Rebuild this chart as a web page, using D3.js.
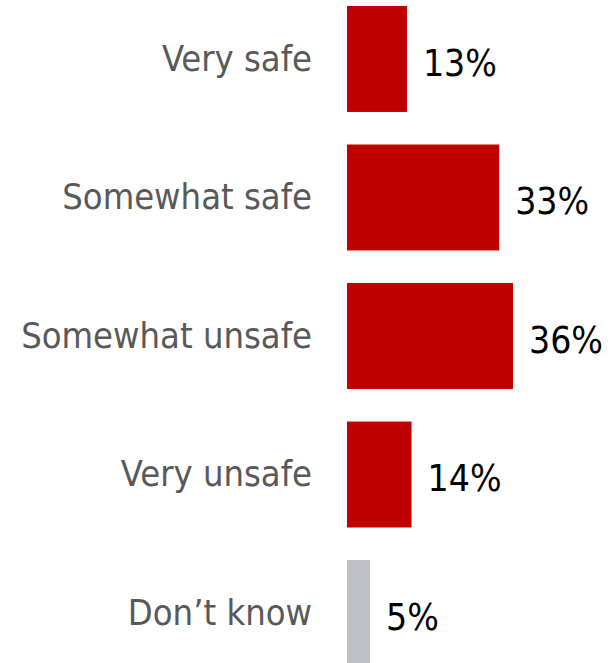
<!DOCTYPE html>
<html>
<head>
<meta charset="utf-8">
<script src="https://cdn.jsdelivr.net/npm/d3@7"></script>
<style>
  html, body { margin: 0; padding: 0; background: #fff; }
  svg { display: block; }
  text { font-family: "DejaVu Sans Condensed", "DejaVu Sans", sans-serif; font-stretch: condensed; }
</style>
</head>
<body>
<svg id="chart" width="616" height="663"></svg>
<script>
const categories = ["Very safe", "Somewhat safe", "Somewhat unsafe", "Very unsafe", "Don\u2019t know"];
const values = [13, 33, 36, 14, 5];
const colors = ["#C00000", "#C00000", "#C00000", "#C00000", "#BDC1C6"];
const valueLabels = ["13%", "33%", "36%", "14%", "5%"];

const svg = d3.select("#chart");
const x0 = 347;
const x = d3.scaleLinear().domain([0, 36]).range([x0, x0 + 166]);
const y = d3.scaleBand().domain(categories).range([6, 666]).paddingInner(0.235).paddingOuter(0);

const data = categories.map((c, i) => ({ c, v: values[i], col: colors[i], lab: valueLabels[i] }));

svg.selectAll("rect.bar").data(data).join("rect")
  .attr("class", "bar")
  .attr("x", x(0))
  .attr("y", d => y(d.c))
  .attr("width", d => x(d.v) - x(0))
  .attr("height", y.bandwidth())
  .attr("fill", d => d.col);

svg.selectAll("text.cat").data(data).join("text")
  .attr("class", "cat")
  .attr("x", x(0) - 35)
  .attr("y", d => y(d.c) + y.bandwidth() / 2)
  .attr("dy", "0.33em")
  .attr("text-anchor", "end")
  .attr("font-size", 36)
  .attr("fill", "#595959")
  .text(d => d.c);

svg.selectAll("text.val").data(data).join("text")
  .attr("class", "val")
  .attr("x", d => x(d.v) + 16)
  .attr("y", d => y(d.c) + y.bandwidth() / 2)
  .attr("dy", "0.45em")
  .attr("font-size", 37)
  .attr("fill", "#000")
  .text(d => d.lab);
</script>
</body>
</html>
